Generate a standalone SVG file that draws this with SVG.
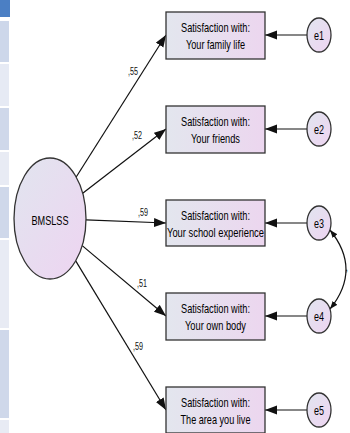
<svg xmlns="http://www.w3.org/2000/svg" width="350" height="433" viewBox="0 0 350 433">
<style>
.box{stroke:#333;stroke-width:1.3;fill:url(#gBox)}
.ell{stroke:#333;stroke-width:1.3;fill:url(#gEll)}
.t{font-family:"Liberation Sans",Arial,sans-serif;font-size:13.5px;fill:#000;text-anchor:middle}
.lbl{font-family:"Liberation Sans",Arial,sans-serif;font-size:11px;fill:#111}
.ln{stroke:#111;stroke-width:1.2;fill:none}
</style>
<defs>
<linearGradient id="gBox" x1="0" y1="0" x2="1" y2="0">
<stop offset="0" stop-color="#e3e6ee"/>
<stop offset="1" stop-color="#ecd6ef"/>
</linearGradient>
<linearGradient id="gEll" x1="0" y1="0" x2="1" y2="1">
<stop offset="0" stop-color="#e1e5ef"/>
<stop offset="1" stop-color="#eed4f1"/>
</linearGradient>
<marker id="ah" markerUnits="userSpaceOnUse" markerWidth="13" markerHeight="10" refX="12" refY="4.5" orient="auto">
<path d="M0,0 L12,4.5 L0,9 z" fill="#111"/>
</marker>
<marker id="ahs" markerUnits="userSpaceOnUse" markerWidth="9" markerHeight="7" refX="8" refY="3" orient="auto-start-reverse">
<path d="M0,0 L8,3 L0,6 z" fill="#111"/>
</marker>
</defs>
<rect width="350" height="433" fill="#fff"/>
<g id="sidebar">
<rect x="0" y="0" width="10" height="17" fill="#4b7fc4"/>
<rect x="0" y="21" width="9" height="41" fill="#cdd7ea"/>
<rect x="0" y="64" width="9" height="42" fill="#e6eaf4"/>
<rect x="0" y="108" width="9" height="42" fill="#cfd8ea"/>
<rect x="0" y="152" width="9" height="33" fill="#e8ebf4"/>
<rect x="0" y="187" width="9" height="51" fill="#cfd8ea"/>
<rect x="0" y="240" width="9" height="88" fill="#e8ebf4"/>
<rect x="0" y="330" width="9" height="88" fill="#cfd8ea"/>
<rect x="0" y="420" width="9" height="13" fill="#e8ebf4"/>
</g>
<g id="connectors">
<line class="ln" x1="76.2" y1="177" x2="166" y2="35" marker-end="url(#ah)"/>
<line class="ln" x1="82.7" y1="193.3" x2="166" y2="129" marker-end="url(#ah)"/>
<line class="ln" x1="86" y1="219.9" x2="166" y2="223" marker-end="url(#ah)"/>
<line class="ln" x1="82.2" y1="245.6" x2="166" y2="316" marker-end="url(#ah)"/>
<line class="ln" x1="75.7" y1="260.9" x2="166" y2="410" marker-end="url(#ah)"/>
<line class="ln" x1="307" y1="35" x2="265" y2="35" marker-end="url(#ah)"/>
<line class="ln" x1="307" y1="129" x2="265" y2="129" marker-end="url(#ah)"/>
<line class="ln" x1="307" y1="223" x2="265" y2="223" marker-end="url(#ah)"/>
<line class="ln" x1="307" y1="316" x2="265" y2="316" marker-end="url(#ah)"/>
<line class="ln" x1="307" y1="410" x2="265" y2="410" marker-end="url(#ah)"/>
<path class="ln" d="M330,230 Q362,269.5 330,309" stroke="#444" marker-start="url(#ahs)" marker-end="url(#ahs)"/>
<text class="lbl" x="128" y="75" textLength="10" lengthAdjust="spacingAndGlyphs">,55</text>
<text class="lbl" x="132" y="139" textLength="10" lengthAdjust="spacingAndGlyphs">,52</text>
<text class="lbl" x="138" y="216" textLength="10" lengthAdjust="spacingAndGlyphs">,59</text>
<text class="lbl" x="137" y="287" textLength="10" lengthAdjust="spacingAndGlyphs">,51</text>
<text class="lbl" x="133" y="350" textLength="10" lengthAdjust="spacingAndGlyphs">,59</text>
<text class="lbl" x="345" y="271">,</text>
</g>
<g id="BMSLSS">
<ellipse class="ell" cx="50" cy="218.5" rx="36" ry="60.5"/>
<text class="t" x="50" y="225" textLength="37" lengthAdjust="spacingAndGlyphs">BMSLSS</text>
</g>
<g id="item1">
<rect class="box" x="166" y="12" width="99" height="47"/>
<text class="t" x="215.5" y="32" textLength="69" lengthAdjust="spacingAndGlyphs">Satisfaction with:</text>
<text class="t" x="215.5" y="49" textLength="59" lengthAdjust="spacingAndGlyphs">Your family life</text>
</g>
<g id="item2">
<rect class="box" x="166" y="106" width="99" height="47"/>
<text class="t" x="215.5" y="126" textLength="69" lengthAdjust="spacingAndGlyphs">Satisfaction with:</text>
<text class="t" x="215.5" y="143" textLength="49" lengthAdjust="spacingAndGlyphs">Your friends</text>
</g>
<g id="item3">
<rect class="box" x="166" y="200" width="99" height="46"/>
<text class="t" x="215.5" y="220" textLength="69" lengthAdjust="spacingAndGlyphs">Satisfaction with:</text>
<text class="t" x="215.5" y="237" textLength="97" lengthAdjust="spacingAndGlyphs">Your school experience</text>
</g>
<g id="item4">
<rect class="box" x="166" y="293" width="99" height="47"/>
<text class="t" x="215.5" y="313" textLength="69" lengthAdjust="spacingAndGlyphs">Satisfaction with:</text>
<text class="t" x="215.5" y="330" textLength="61" lengthAdjust="spacingAndGlyphs">Your own body</text>
</g>
<g id="item5">
<rect class="box" x="166" y="387" width="99" height="46"/>
<text class="t" x="215.5" y="407" textLength="69" lengthAdjust="spacingAndGlyphs">Satisfaction with:</text>
<text class="t" x="215.5" y="424" textLength="70" lengthAdjust="spacingAndGlyphs">The area you live</text>
</g>
<g id="e1"><ellipse class="ell" cx="319" cy="35" rx="12" ry="17"/><text class="t" x="319" y="40" font-size="13" textLength="10" lengthAdjust="spacingAndGlyphs">e1</text></g>
<g id="e2"><ellipse class="ell" cx="319" cy="129" rx="12" ry="17"/><text class="t" x="319" y="134" font-size="13" textLength="10" lengthAdjust="spacingAndGlyphs">e2</text></g>
<g id="e3"><ellipse class="ell" cx="319" cy="223" rx="12" ry="17"/><text class="t" x="319" y="228" font-size="13" textLength="10" lengthAdjust="spacingAndGlyphs">e3</text></g>
<g id="e4"><ellipse class="ell" cx="319" cy="316" rx="12" ry="17"/><text class="t" x="319" y="321" font-size="13" textLength="10" lengthAdjust="spacingAndGlyphs">e4</text></g>
<g id="e5"><ellipse class="ell" cx="319" cy="410" rx="12" ry="17"/><text class="t" x="319" y="415" font-size="13" textLength="10" lengthAdjust="spacingAndGlyphs">e5</text></g>
</svg>
